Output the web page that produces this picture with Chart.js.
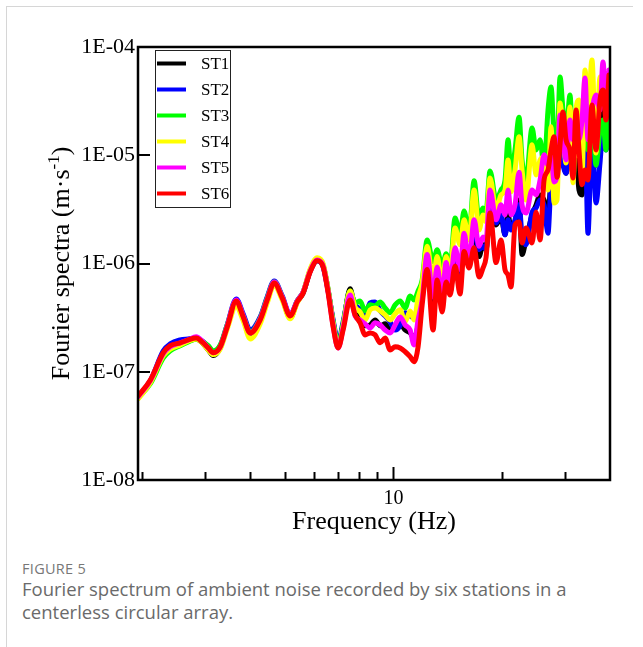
<!DOCTYPE html>
<html>
<head>
<meta charset="utf-8">
<script src="https://cdn.jsdelivr.net/npm/chart.js@4.4.1/dist/chart.umd.min.js"></script>
<style>
html, body { margin: 0; padding: 0; background: #fff; }
body { width: 643px; height: 647px; position: relative; overflow: hidden; }
#frame { position: absolute; left: 6px; top: 6px; width: 626px; height: 660px; border-top: 1px solid #d6d6d6; border-left: 1px solid #d6d6d6; }
#c { position: absolute; left: 0; top: 0; }
#fig { position: absolute; left: 22px; top: 559px; font: 14.5px "Open Sans", sans-serif; color: #777; letter-spacing: 0.3px; }
#cap { position: absolute; left: 22px; top: 577px; font: 18.5px/23px "Open Sans", sans-serif; color: #6a6a6a; }
</style>
</head>
<body>
<div id="frame"></div>
<canvas id="c" width="643" height="545"></canvas>
<div id="fig">FIGURE 5</div>
<div id="cap">Fourier spectrum of ambient noise recorded by six stations in a<br>centerless circular array.</div>
<script>
// Fourier spectra of six stations
const freqs = [1.953, 2.110, 2.293, 2.397, 2.556, 2.690, 2.830, 2.942, 3.057, 3.157, 3.301, 3.452, 3.657, 3.824, 3.999,
  4.263, 4.459, 4.663, 4.908, 5.165, 5.401, 5.613, 5.870, 6.139, 6.378, 6.585, 6.799, 7.020, 7.248, 7.580,
  7.826, 8.080, 8.343, 8.614, 8.897, 9.186, 9.483, 9.790, 10.11, 10.44, 10.78, 11.13, 11.41, 11.71, 12.02,
  12.41, 12.89, 13.23, 13.66, 14.01, 14.37, 14.84, 15.32, 15.72, 16.23, 16.76, 17.30, 17.75, 18.09, 18.56, 19.29,
  19.92, 20.43, 20.83, 21.23, 21.78, 22.35, 22.78, 23.37, 24.29, 24.92, 25.57, 26.23, 26.90, 27.43, 27.96, 28.50,
  29.05, 29.61, 30.19, 30.97, 31.57, 32.18, 32.80, 33.44, 34.09, 34.74, 35.64, 36.57, 37.52, 38.24, 38.98, 39.73];

const st1 = [5.75e-8, 8.08e-8, 1.44e-7, 1.66e-7, 1.77e-7, 1.92e-7, 2.01e-7, 1.85e-7, 1.59e-7, 1.41e-7, 1.66e-7, 2.60e-7, 4.42e-7, 3.21e-7, 2.19e-7,
  3.01e-7, 4.61e-7, 6.61e-7, 4.81e-7, 3.14e-7, 4.42e-7, 5.35e-7, 8.52e-7, 1.06e-6, 9.50e-7, 5.70e-7, 2.89e-7, 1.74e-7, 2.71e-7, 5.83e-7,
  3.73e-7, 3.28e-7, 2.66e-7, 2.71e-7, 3.01e-7, 2.66e-7, 2.77e-7, 2.43e-7, 2.66e-7, 2.77e-7, 2.43e-7, 2.28e-7, 2.05e-7, 2.71e-7, 5.70e-7,
  1.04e-6, 4.61e-7, 8.36e-7, 4.61e-7, 7.83e-7, 5.46e-7, 1.21e-6, 7.35e-7, 1.49e-6, 1.08e-6, 2.04e-6, 1.16e-6, 1.49e-6, 1.34e-6, 3.48e-6, 2.27e-6,
  2.68e-6, 1.84e-6, 2.81e-6, 2.13e-6, 2.42e-6, 3.86e-6, 1.21e-6, 1.65e-6, 2.81e-6, 3.48e-6, 4.30e-6, 3.86e-6, 2.81e-6, 5.91e-6, 6.58e-6, 6.98e-6,
  1.39e-5, 9.05e-6, 6.82e-6, 1.12e-5, 8.10e-6, 9.05e-6, 4.78e-6, 4.30e-6, 9.05e-6, 7.32e-6, 2.12e-5, 8.10e-6, 2.12e-5, 2.62e-5, 2.12e-5, 3.24e-5];

const st2 = [5.88e-8, 8.26e-8, 1.56e-7, 1.81e-7, 1.97e-7, 2.01e-7, 2.05e-7, 1.92e-7, 1.70e-7, 1.53e-7, 1.74e-7, 2.71e-7, 4.71e-7, 3.42e-7, 2.43e-7,
  3.21e-7, 4.92e-7, 6.90e-7, 5.02e-7, 3.35e-7, 4.50e-7, 5.46e-7, 8.52e-7, 1.06e-6, 9.30e-7, 5.58e-7, 3.01e-7, 1.88e-7, 2.89e-7, 5.46e-7,
  4.15e-7, 3.80e-7, 3.35e-7, 4.32e-7, 4.42e-7, 3.65e-7, 3.28e-7, 2.89e-7, 2.43e-7, 2.66e-7, 3.51e-7, 3.28e-7, 3.14e-7, 4.15e-7, 6.31e-7,
  1.08e-6, 4.81e-7, 8.80e-7, 4.81e-7, 8.36e-7, 5.70e-7, 1.29e-6, 7.83e-7, 1.59e-6, 1.13e-6, 2.13e-6, 1.34e-6, 1.45e-6, 1.34e-6, 3.48e-6, 2.37e-6,
  2.81e-6, 1.84e-6, 2.53e-6, 2.04e-6, 2.53e-6, 3.48e-6, 1.84e-6, 1.49e-6, 2.99e-6, 3.26e-6, 3.86e-6, 3.48e-6, 1.90e-6, 5.34e-6, 5.91e-6, 6.58e-6,
  1.12e-5, 8.10e-6, 6.82e-6, 1.39e-5, 9.05e-6, 1.54e-5, 1.12e-5, 9.05e-6, 1.71e-5, 1.90e-6, 1.71e-5, 3.62e-6, 8.48e-6, 1.71e-5, 1.12e-5, 2.62e-5];

const st3 = [5.75e-8, 7.75e-8, 1.34e-7, 1.56e-7, 1.74e-7, 1.88e-7, 2.01e-7, 1.92e-7, 1.74e-7, 1.56e-7, 1.77e-7, 2.71e-7, 4.50e-7, 3.28e-7, 2.33e-7,
  3.14e-7, 4.81e-7, 6.76e-7, 4.92e-7, 3.28e-7, 4.50e-7, 5.46e-7, 8.70e-7, 1.11e-6, 9.70e-7, 5.70e-7, 2.89e-7, 1.77e-7, 2.77e-7, 5.58e-7,
  4.32e-7, 4.50e-7, 3.65e-7, 4.15e-7, 4.05e-7, 4.42e-7, 3.88e-7, 3.51e-7, 4.15e-7, 4.50e-7, 3.88e-7, 5.02e-7, 4.61e-7, 5.58e-7, 7.05e-7,
  1.65e-6, 1.04e-6, 1.34e-6, 9.30e-7, 1.23e-6, 9.10e-7, 2.63e-6, 1.87e-6, 3.06e-6, 1.90e-6, 5.80e-6, 2.53e-6, 3.26e-6, 2.99e-6, 7.16e-6, 3.86e-6,
  4.78e-6, 5.91e-6, 1.39e-5, 6.58e-6, 1.12e-5, 2.25e-5, 9.05e-6, 5.91e-6, 1.79e-5, 1.12e-5, 1.39e-5, 7.61e-6, 2.62e-5, 4.27e-5, 1.54e-5, 1.12e-5,
  5.28e-5, 2.62e-5, 1.61e-5, 3.60e-5, 1.12e-5, 1.54e-5, 1.39e-5, 1.12e-5, 2.12e-5, 1.12e-5, 2.62e-5, 8.10e-6, 1.71e-5, 2.12e-5, 1.12e-5, 2.62e-5];

const st4 = [5.63e-8, 7.91e-8, 1.41e-7, 1.62e-7, 1.77e-7, 1.92e-7, 2.01e-7, 1.85e-7, 1.59e-7, 1.44e-7, 1.62e-7, 2.49e-7, 4.05e-7, 2.95e-7, 2.01e-7,
  2.77e-7, 4.32e-7, 6.31e-7, 4.61e-7, 3.08e-7, 4.32e-7, 5.46e-7, 8.91e-7, 1.13e-6, 9.92e-7, 5.70e-7, 2.83e-7, 1.70e-7, 2.66e-7, 5.58e-7,
  3.96e-7, 3.57e-7, 3.01e-7, 3.73e-7, 3.88e-7, 3.65e-7, 3.35e-7, 3.01e-7, 3.42e-7, 3.73e-7, 2.89e-7, 3.65e-7, 3.01e-7, 4.81e-7, 6.61e-7,
  1.44e-6, 7.05e-7, 1.16e-6, 6.31e-7, 1.16e-6, 7.83e-7, 2.13e-6, 1.49e-6, 2.53e-6, 1.65e-6, 4.78e-6, 2.04e-6, 2.81e-6, 2.42e-6, 6.17e-6, 3.13e-6,
  4.30e-6, 4.78e-6, 9.05e-6, 4.59e-6, 7.32e-6, 1.48e-5, 7.32e-6, 3.86e-6, 1.25e-5, 6.58e-6, 9.05e-6, 9.65e-6, 4.78e-6, 1.83e-5, 3.62e-6, 3.86e-6,
  3.04e-5, 1.54e-5, 8.48e-6, 2.79e-5, 5.56e-6, 2.62e-5, 3.24e-5, 5.91e-6, 6.13e-5, 2.62e-5, 7.58e-5, 1.05e-5, 5.28e-5, 3.60e-5, 2.62e-5, 5.88e-5];

const st5 = [5.88e-8, 8.26e-8, 1.47e-7, 1.70e-7, 1.85e-7, 1.97e-7, 2.10e-7, 1.92e-7, 1.66e-7, 1.50e-7, 1.70e-7, 2.66e-7, 4.61e-7, 3.28e-7, 2.28e-7,
  3.08e-7, 4.71e-7, 6.76e-7, 4.92e-7, 3.35e-7, 4.50e-7, 5.46e-7, 8.52e-7, 1.08e-6, 9.50e-7, 5.46e-7, 2.66e-7, 1.66e-7, 2.54e-7, 5.12e-7,
  3.28e-7, 3.01e-7, 2.77e-7, 2.54e-7, 2.83e-7, 2.71e-7, 2.43e-7, 2.28e-7, 2.71e-7, 3.21e-7, 2.71e-7, 2.43e-7, 1.77e-7, 3.01e-7, 4.61e-7,
  1.21e-6, 4.92e-7, 9.30e-7, 4.92e-7, 1.02e-6, 6.76e-7, 1.40e-6, 8.80e-7, 1.90e-6, 1.02e-6, 2.53e-6, 1.44e-6, 1.76e-6, 1.65e-6, 4.78e-6, 2.53e-6,
  3.48e-6, 2.81e-6, 4.78e-6, 2.81e-6, 3.48e-6, 6.98e-6, 3.48e-6, 2.93e-6, 4.78e-6, 4.30e-6, 5.91e-6, 1.01e-5, 8.10e-6, 1.01e-5, 5.67e-6, 6.58e-6,
  2.35e-5, 1.39e-5, 9.05e-6, 2.12e-5, 1.39e-5, 1.90e-5, 1.39e-5, 2.12e-5, 5.17e-5, 1.39e-5, 2.62e-5, 3.60e-5, 2.62e-5, 7.27e-5, 3.24e-5, 6.13e-5];

const st6 = [6.00e-8, 8.40e-8, 1.50e-7, 1.74e-7, 1.85e-7, 1.97e-7, 2.05e-7, 1.88e-7, 1.66e-7, 1.50e-7, 1.70e-7, 2.60e-7, 4.50e-7, 3.21e-7, 2.28e-7,
  3.01e-7, 4.61e-7, 6.61e-7, 4.81e-7, 3.28e-7, 4.42e-7, 5.35e-7, 8.36e-7, 1.06e-6, 9.30e-7, 5.35e-7, 2.60e-7, 1.66e-7, 2.43e-7, 4.61e-7,
  3.35e-7, 2.83e-7, 2.19e-7, 2.28e-7, 2.19e-7, 1.85e-7, 2.05e-7, 1.59e-7, 1.70e-7, 1.66e-7, 1.53e-7, 1.38e-7, 1.24e-7, 1.70e-7, 4.15e-7,
  8.80e-7, 2.43e-7, 7.05e-7, 3.57e-7, 6.76e-7, 5.12e-7, 9.50e-7, 5.23e-7, 1.29e-6, 9.10e-7, 1.40e-6, 7.50e-7, 9.10e-7, 1.13e-6, 2.93e-6, 1.02e-6,
  1.65e-6, 8.73e-7, 7.83e-7, 6.07e-7, 2.27e-6, 2.42e-6, 1.55e-6, 2.13e-6, 1.55e-6, 2.99e-6, 1.65e-6, 5.91e-6, 7.32e-6, 1.12e-5, 1.48e-5, 6.26e-6,
  1.25e-5, 2.51e-5, 1.39e-5, 1.12e-5, 6.17e-6, 2.62e-5, 1.12e-5, 5.34e-6, 7.32e-6, 5.91e-6, 2.91e-5, 1.12e-5, 3.24e-5, 4.01e-5, 2.12e-5, 5.51e-5];

const stationNames = ['ST1', 'ST2', 'ST3', 'ST4', 'ST5', 'ST6'];
const stationColors = ['#000000', '#0000ff', '#00ff00', '#ffff00', '#ff00ff', '#ff0000'];
const stationSeries = [st1, st2, st3, st4, st5, st6];

const freqTicks = [2, 3, 4, 5, 6, 7, 8, 9, 10, 20, 30];
const ampTicks = [1e-8, 1e-7, 1e-6, 1e-5, 1e-4];

const SERIF = '"Liberation Serif", "Times New Roman", serif';

// 畫框線、內向刻度、軸標題與圖例
const framePlugin = {
    id: 'frame',
    afterDraw(chart) {
        const { ctx, chartArea: a, scales: { x, y } } = chart;
        ctx.save();
        ctx.strokeStyle = '#000';
        ctx.lineCap = 'butt';

        // tick marks pointing inward
        ctx.lineWidth = 2;
        freqTicks.forEach(v => {
            const px = Math.round(x.getPixelForValue(v)) + 0.5;
            const len = v === 10 ? 13 : 8;
            ctx.beginPath(); ctx.moveTo(px, a.bottom); ctx.lineTo(px, a.bottom - len); ctx.stroke();
        });
        ampTicks.forEach(v => {
            const py = Math.round(y.getPixelForValue(v));
            ctx.beginPath(); ctx.moveTo(a.left, py); ctx.lineTo(a.left + 12, py); ctx.stroke();
        });

        // frame
        ctx.lineWidth = 2.5;
        ctx.strokeRect(a.left, a.top, a.right - a.left, a.bottom - a.top);

        // legend box
        const lx = a.left + 17, ly = a.top + 3, lw = 75, lh = 157;
        ctx.fillStyle = '#fff';
        ctx.fillRect(lx, ly, lw, lh);
        ctx.lineWidth = 1;
        ctx.strokeStyle = '#222';
        ctx.strokeRect(lx + 0.5, ly + 0.5, lw, lh);
        ctx.font = '17px ' + SERIF;
        ctx.textBaseline = 'middle';
        ctx.textAlign = 'left';
        stationNames.forEach((name, i) => {
            const ry = ly + 13.5 + i * 26;
            ctx.strokeStyle = stationColors[i];
            ctx.lineWidth = 4;
            ctx.beginPath(); ctx.moveTo(lx + 2, ry); ctx.lineTo(lx + 31, ry); ctx.stroke();
            ctx.fillStyle = '#000';
            ctx.fillText(name, lx + 46, ry + 1);
        });

        // x title
        ctx.fillStyle = '#000';
        ctx.font = '26px ' + SERIF;
        ctx.textAlign = 'center';
        ctx.textBaseline = 'alphabetic';
        ctx.fillText('Frequency (Hz)', (a.left + a.right) / 2, 529);

        // y title with superscript
        const main = 'Fourier spectra (m·s', sup = '-1', tail = ')';
        ctx.font = '26px ' + SERIF;
        const w1 = ctx.measureText(main).width, w3 = ctx.measureText(tail).width;
        ctx.font = '17px ' + SERIF;
        const w2 = ctx.measureText(sup).width;
        const total = w1 + w2 + w3;
        ctx.translate(69, (a.top + a.bottom) / 2);
        ctx.rotate(-Math.PI / 2);
        ctx.textAlign = 'left';
        ctx.font = '26px ' + SERIF;
        ctx.fillText(main, -total / 2, 0);
        ctx.font = '17px ' + SERIF;
        ctx.fillText(sup, -total / 2 + w1, -10);
        ctx.font = '26px ' + SERIF;
        ctx.fillText(tail, -total / 2 + w1 + w2, 0);
        ctx.restore();
    }
};

const datasets = stationSeries.map((vals, i) => ({
    label: stationNames[i],
    data: freqs.map((f, j) => ({ x: f, y: vals[j] })),
    borderColor: stationColors[i],
    backgroundColor: stationColors[i],
    borderWidth: 5,
    pointRadius: 0,
    cubicInterpolationMode: 'monotone',
    borderJoinStyle: 'round',
    borderCapStyle: 'round',
    order: stationNames.length - i
}));

new Chart(document.getElementById('c'), {
    type: 'line',
    data: { datasets },
    plugins: [framePlugin],
    options: {
        responsive: false,
        animation: false,
        layout: { padding: { top: 47, right: 33, bottom: 0, left: 0 } },
        plugins: { legend: { display: false }, tooltip: { enabled: false } },
        scales: {
            x: {
                type: 'logarithmic',
                min: 1.95,
                max: 40,
                grid: { display: false, drawTicks: false, tickLength: 0 },
                border: { display: false },
                afterBuildTicks: s => { s.ticks = freqTicks.map(v => ({ value: v })); },
                afterFit: s => { s.height = 65; },
                ticks: {
                    autoSkip: false,
                    maxRotation: 0,
                    padding: 7,
                    color: '#000',
                    font: { family: SERIF, size: 20 },
                    callback: v => (v === 10 ? '10' : '')
                }
            },
            y: {
                type: 'logarithmic',
                min: 1e-8,
                max: 1e-4,
                grid: { display: false, drawTicks: false, tickLength: 0 },
                border: { display: false },
                afterBuildTicks: s => { s.ticks = ampTicks.map(v => ({ value: v })); },
                afterFit: s => { s.width = 138; },
                ticks: {
                    padding: 3,
                    color: '#000',
                    font: { family: SERIF, size: 22 },
                    callback: v => '1E-0' + Math.round(-Math.log10(v))
                }
            }
        }
    }
});
</script>
</body>
</html>
